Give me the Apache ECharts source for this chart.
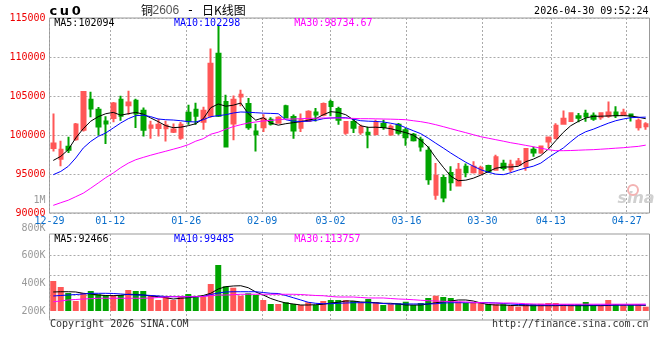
<!DOCTYPE html>
<html><head><meta charset="utf-8">
<script src="https://cdn.jsdelivr.net/npm/echarts@6/dist/echarts.min.js"></script>
<style>html,body{margin:0;padding:0;background:#fff}#c{width:660px;height:360px}</style>
</head><body><div id="c"></div>
<script>
// ---------- data ----------
const dates = ['12-29','12-30','12-31','01-05','01-06','01-07','01-08','01-09','01-12','01-13','01-14','01-15','01-16','01-19','01-20','01-21','01-22','01-23','01-26','01-27','01-28','01-29','01-30','02-02','02-03','02-04','02-05','02-06','02-09','02-10','02-11','02-12','02-13','02-24','02-25','02-26','02-27','03-02','03-03','03-04','03-05','03-06','03-09','03-10','03-11','03-12','03-13','03-16','03-17','03-18','03-19','03-20','03-23','03-24','03-25','03-26','03-27','03-30','03-31','04-01','04-02','04-03','04-07','04-08','04-09','04-10','04-13','04-14','04-15','04-16','04-17','04-20','04-21','04-22','04-23','04-24','04-27','04-28','04-29','04-30'];
const labelIdx = [0,8,18,28,37,47,57,66,76];

const opens  = [98330,96960,98500,99440,100680,104530,103240,101740,102180,104530,103800,104400,103120,100940,100900,100870,100420,99650,102860,103240,101710,102480,110420,104230,101490,104940,103990,100450,101000,101960,101580,103670,102310,100940,101800,102900,102600,104230,103330,100300,101670,100360,100300,100140,101420,100080,101320,100620,100040,99400,97990,92350,94490,95130,93530,95940,95210,95070,96040,95550,96320,95620,96190,95980,98120,97770,99180,99620,101450,101810,102390,102730,102480,102280,102480,102900,102600,102640,101000,101130];
const closes = [98920,98120,98120,101360,105510,103410,101100,101490,104050,102480,104180,102770,100680,101230,101320,101230,100720,101320,101830,102480,103120,109140,102480,98540,104530,105170,101000,100100,102090,101450,102220,102240,100590,101900,102990,102640,103980,103720,101960,101670,100940,101030,100100,101600,101040,101070,100300,99720,99330,98540,94330,94760,92000,93950,95550,95210,95940,95780,95330,97150,95770,96190,96600,98220,97770,98540,99690,101190,102090,102800,102220,102410,102070,102800,102890,102540,102860,102480,101830,101390];
const lows   = [97900,95980,97690,99270,100460,102260,99950,98850,101620,101830,102600,100900,99820,99530,99820,99180,100260,99400,101320,101320,100680,102220,102300,98500,99330,103670,100680,97900,100390,101230,101450,102180,99530,100390,101710,101740,102390,102390,101320,100040,100260,100040,98310,99950,100680,99910,100040,98630,99180,97900,93630,91710,91390,92860,93410,94590,95080,95000,95130,95460,95460,95230,96070,95420,97220,97600,98330,99460,101410,101710,101640,101710,101830,101960,102220,102180,102440,101740,100590,100680];
const highs  = [102770,99270,99780,101540,105590,105550,103590,102390,104230,105040,105680,104650,103540,101830,102090,101830,101490,101670,103890,104140,103630,111090,114140,105170,105060,105810,104740,101450,102670,102260,102410,103890,102640,102770,103180,103460,104180,104530,103630,101800,102090,101360,101070,101960,101960,101360,101540,100900,100260,99780,98540,96420,94910,95980,96420,96350,96620,96070,96190,97480,96830,96830,97050,98330,98480,98630,99820,101510,103140,102900,102820,103240,102900,102900,104300,103670,103350,102760,102130,101640];

const ma5  = [96740,97260,98120,99620,100810,101770,102350,102730,102900,102540,102730,102900,102670,102180,101710,101190,100940,101000,101190,101450,102090,103500,103980,103690,103820,104100,102730,101900,102220,101540,101260,101450,101580,101710,101900,102090,102600,102990,102900,102600,101960,101190,100980,101000,100940,100810,100550,100300,99980,99330,98440,97090,95870,94720,94140,94210,94460,94850,95300,95740,95900,95900,95980,96580,96900,97350,98180,99270,100330,101190,101740,102180,102390,102410,102440,102480,102480,102440,102280,102090];
const ma10 = [94910,95330,95980,97050,98330,99180,99820,100260,100900,101540,102090,102480,102540,102350,102050,101960,101920,101830,101710,101670,101960,102350,102480,102600,102820,102950,102920,102860,102800,102770,102730,101960,101770,101740,101770,101870,102090,102180,102220,102220,102030,101830,101770,101740,101670,101510,101320,100940,100550,100170,99590,98950,98330,97690,97090,96510,96000,95550,95230,94980,94910,95170,95490,95770,96000,96390,97090,97730,98330,99140,99910,100420,100740,101130,101510,101830,102050,102220,102260,102290];
const ma30 = [90980,91320,91640,92090,92540,93180,93850,94530,95130,95810,96390,96830,97130,97410,97670,97920,98180,98440,98760,99210,99530,100100,100360,100740,101070,101320,101540,101670,101800,101870,101960,102030,102050,102090,102130,102150,102180,102180,102180,102150,102130,102090,102090,102070,102050,102030,102000,101960,101830,101710,101540,101320,101070,100810,100550,100300,100040,99780,99590,99400,99210,99010,98850,98670,98500,98310,98120,97990,97990,98010,98050,98090,98120,98180,98240,98310,98370,98460,98540,98700];

const volumes = [495000,396000,297000,165000,297000,330000,276000,264000,264000,264000,347000,330000,330000,264000,182000,236000,182000,236000,281000,236000,236000,446000,759000,408000,384000,252000,292000,264000,182000,116000,116000,144000,116000,99000,144000,99000,165000,182000,182000,182000,165000,144000,198000,144000,99000,116000,127000,153000,99000,132000,215000,252000,231000,215000,153000,132000,132000,144000,116000,111000,111000,87000,71000,116000,111000,120000,132000,132000,111000,111000,111000,149000,99000,99000,182000,111000,99000,99000,111000,71000];
const vma5  = [314000,318000,318000,314000,292000,281000,264000,256000,252000,259000,276000,272000,264000,248000,236000,219000,198000,210000,219000,236000,256000,292000,363000,401000,413000,417000,384000,314000,264000,206000,165000,132000,116000,99000,99000,104000,111000,132000,144000,165000,165000,149000,144000,137000,127000,127000,116000,99000,99000,99000,116000,137000,149000,165000,182000,182000,165000,132000,107000,99000,99000,91000,88000,88000,88000,88000,88000,88000,91000,88000,88000,88000,90000,88000,91000,99000,99000,99000,99000,92466];
const vma10 = [248000,256000,264000,272000,281000,292000,292000,292000,289000,281000,272000,264000,264000,256000,248000,239000,236000,236000,236000,236000,239000,272000,297000,314000,318000,318000,318000,318000,305000,292000,289000,256000,219000,182000,144000,127000,120000,120000,127000,132000,137000,137000,137000,132000,124000,116000,116000,116000,116000,116000,116000,120000,132000,137000,137000,137000,137000,137000,137000,132000,124000,116000,107000,104000,99000,99000,99000,99000,99000,99000,99000,99000,99000,99000,99000,99000,99000,99000,99000,99485];
const vma30 = [153000,165000,182000,190000,198000,203000,210000,210000,210000,210000,210000,210000,210000,215000,223000,231000,236000,236000,236000,236000,239000,252000,264000,264000,269000,276000,276000,276000,276000,276000,276000,276000,276000,272000,264000,256000,252000,239000,231000,231000,231000,223000,215000,215000,215000,206000,198000,193000,186000,177000,170000,165000,160000,153000,153000,149000,144000,137000,132000,132000,132000,132000,127000,120000,116000,112000,112000,112000,112000,112000,112000,112000,112000,112000,112000,112000,112000,112000,112000,113757];

const priceLegend = ['MA5:102094','MA10:102298','MA30:98734.67'];
const volLegend   = ['MA5:92466','MA10:99485','MA30:113757'];
const stamp = '2026-04-30 09:52:24';
const volLabelRange = {min:200000, max:1000000, interval:200000};
const volGridLines = [252450, 582450, 912450];

// ---------- chart ----------
const mono = '"DejaVu Sans Mono", monospace';
const RED = '#ff5757', GREEN = '#00a400';
const candleData = opens.map((o,i)=>[o, closes[i], lows[i], highs[i]]);
const volData = volumes.map((v,i)=>({value:v, itemStyle:{color: closes[i]>=opens[i]?RED:GREEN}}));
const dotted = {color:'#aaaaaa', type:[2,2], width:1};

function mline(name, data, color, xi, yi){
  return {name, type:'line', data, xAxisIndex:xi, yAxisIndex:yi, symbol:'none', smooth:false,
    lineStyle:{color, width:1}, itemStyle:{color}, z:5, silent:true};
}
function txt(x,y,text,fill,align,font){
  return {type:'text', x, y, silent:true, z:10, style:{text, fill, font: font || ('10px '+mono), textAlign: align||'left', textVerticalAlign:'middle'}};
}

const chart = echarts.init(document.getElementById('c'), null, {renderer:'canvas'});
chart.setOption({
  animation:false,
  backgroundColor:'#fff',
  grid:[
    {left:49.5, width:600, top:18, height:195, show:true, borderColor:'#999', borderWidth:1},
    {left:49.5, width:600, top:234, height:86, show:true, borderColor:'#999', borderWidth:1},
    {left:49.5, width:600, top:200.5, height:110.5, show:false}
  ],
  xAxis:[
    {type:'category', gridIndex:0, data:dates, boundaryGap:true, show:false, position:'bottom'},
    {type:'value', gridIndex:0, position:'bottom', min:0, max:dates.length-1, axisLine:{show:false},
      axisTick:{show:false, customValues:labelIdx},
      axisLabel:{customValues:labelIdx, formatter:v=>dates[v], color:'#0a6ecb', fontFamily:mono, fontSize:10, margin:3},
      splitLine:{show:true, lineStyle:dotted}},
    {type:'category', gridIndex:1, data:dates, boundaryGap:true, show:false, position:'bottom'},
    {type:'value', gridIndex:1, position:'bottom', min:0, max:dates.length-1, axisLine:{show:false},
      axisTick:{show:false, customValues:labelIdx}, axisLabel:{show:false},
      splitLine:{show:true, lineStyle:dotted}},
    {type:'value', gridIndex:2, min:0, max:1, show:false}
  ],
  yAxis:[
    {type:'value', gridIndex:0, min:90000, max:115000, interval:5000, axisLine:{show:false}, axisTick:{show:false},
      axisLabel:{color:'#ee0000', fontFamily:mono, fontSize:10, margin:4, formatter:v=>String(v)},
      splitLine:{show:true, lineStyle:dotted}},
    {type:'value', gridIndex:1, min:-148500, max:1270500, axisLine:{show:false},
      axisTick:{show:false, customValues:volGridLines}, axisLabel:{show:false},
      splitLine:{show:true, lineStyle:dotted}},
    {type:'value', gridIndex:2, min:volLabelRange.min, max:volLabelRange.max, interval:volLabelRange.interval,
      axisLine:{show:false}, axisTick:{show:false}, splitLine:{show:false},
      axisLabel:{color:'#999', fontFamily:mono, fontSize:10, margin:4,
        formatter:v=> v>=1000000 ? (v/1000000)+'M' : (v/1000)+'K'}}
  ],
  series:[
    {type:'candlestick', xAxisIndex:0, yAxisIndex:0, data:candleData, barWidth:4,
      itemStyle:{color:RED, color0:GREEN, borderColor:RED, borderColor0:GREEN, borderWidth:2}, z:3, silent:true},
    mline('MA5', ma5, '#000000', 0, 0),
    mline('MA10', ma10, '#0000ff', 0, 0),
    mline('MA30', ma30, '#ff00ff', 0, 0),
    {type:'bar', xAxisIndex:2, yAxisIndex:1, data:volData, barWidth:6, z:3, silent:true},
    mline('VMA5', vma5, '#000000', 2, 1),
    mline('VMA10', vma10, '#0000ff', 2, 1),
    mline('VMA30', vma30, '#ff00ff', 2, 1)
  ],
  graphic:[
    {type:'text', x:636, y:199, silent:true, z:1, style:{text:'sina', fill:'#d0d0d0', font:'italic bold 16px "DejaVu Sans"', textAlign:'center', textVerticalAlign:'middle'}},
    {type:'circle', silent:true, z:1, shape:{cx:633, cy:190, r:5}, style:{stroke:'#f3b3b3', fill:'none', lineWidth:2}},
    txt(53.3, 11.8, 'c', '#000', 'center', 'bold 13px "DejaVu Sans"'),
    txt(64.3, 11.8, 'u', '#000', 'center', 'bold 13px "DejaVu Sans"'),
    txt(76.3, 11.8, '0', '#000', 'center', 'bold 13px "DejaVu Sans"'),
    txt(141, 10.5, '铜', '#000', 'left', '12px "Noto Sans CJK SC"'),
    txt(152.5, 10.5, '2606', '#555', 'left', '12px "Liberation Sans"'),
    txt(190.5, 10.5, '-', '#000', 'center', '12px "DejaVu Sans"'),
    txt(202, 10.5, '日K线图', '#000', 'left', '12px "Noto Sans CJK SC"'),
    txt(648.5, 11.3, stamp, '#000', 'right'),
    txt(54.3, 23.5, priceLegend[0], '#000000'),
    txt(174, 23.5, priceLegend[1], '#0000ff'),
    txt(294.3, 23.5, priceLegend[2], '#ff00ff'),
    txt(54.3, 239, volLegend[0], '#000000'),
    txt(174, 239, volLegend[1], '#0000ff'),
    txt(294.3, 239, volLegend[2], '#ff00ff'),
    txt(50, 324, 'Copyright 2026 SINA.COM', '#333'),
    txt(648.5, 324, 'http://finance.sina.com.cn', '#333', 'right')
  ]
});
</script></body></html>
